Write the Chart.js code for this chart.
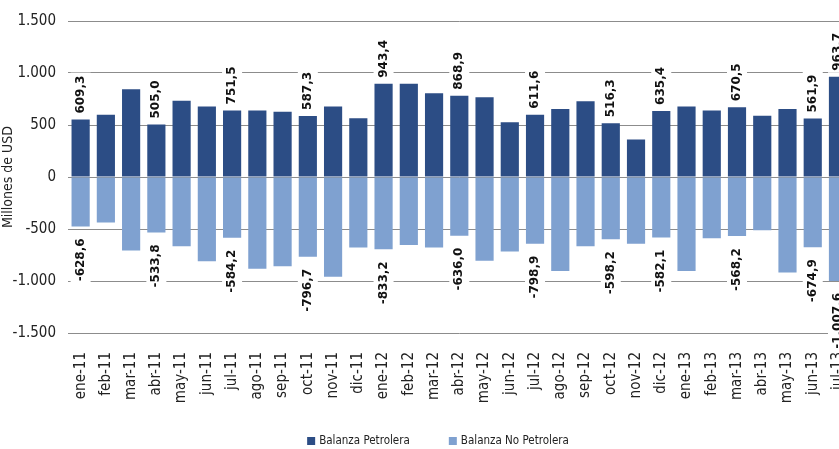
<!DOCTYPE html>
<html>
<head>
<meta charset="utf-8">
<script src="https://cdn.jsdelivr.net/npm/chart.js@4.4.1/dist/chart.umd.min.js"></script>
<style>
    html, body { margin: 0; padding: 0; background: #fff; overflow: hidden; }
    #contenedor { width: 839px; height: 449px; overflow: hidden; }
    #graficoBalanza { display: block; }
</style>
</head>
<body>
<div id="contenedor"><canvas id="graficoBalanza" width="859" height="449"></canvas></div>
<script>
// Meses del eje X
const meses = ['ene-11', 'feb-11', 'mar-11', 'abr-11', 'may-11', 'jun-11', 'jul-11', 'ago-11', 'sep-11', 'oct-11', 'nov-11', 'dic-11',
    'ene-12', 'feb-12', 'mar-12', 'abr-12', 'may-12', 'jun-12', 'jul-12', 'ago-12', 'sep-12', 'oct-12', 'nov-12', 'dic-12',
    'ene-13', 'feb-13', 'mar-13', 'abr-13', 'may-13', 'jun-13', 'jul-13'];

// Balanza petrolera (millones de USD)
const petrolera = [552, 599, 844, 505.0, 733, 679, 640, 640, 628, 587.3, 679, 564,
    896, 896, 806, 781, 768, 526, 599, 653, 729, 516.3, 360, 635.4,
    679, 640, 670.5, 590, 653, 561.9, 963.7];

// Balanza no petrolera (millones de USD)
const noPetrolera = [-475, -437, -707, -533.8, -666, -810, -584.2, -883, -857, -768, -959, -679,
    -695, -653, -679, -564, -806, -717, -641, -905, -666, -598.2, -641, -582.1,
    -905, -590, -568.2, -513, -918, -674.9, -1000];

// Etiquetas que aparecen sobre algunas barras
const etiquetasPetrolera = ['609,3', null, null, '505,0', null, null, '751,5', null, null, '587,3', null, null,
    '943,4', null, null, '868,9', null, null, '611,6', null, null, '516,3', null, '635,4',
    null, null, '670,5', null, null, '561,9', '963,7'];
const etiquetasNoPetrolera = ['-628,6', null, null, '-533,8', null, null, '-584,2', null, null, '-796,7', null, null,
    '-833,2', null, null, '-636,0', null, null, '-798,9', null, null, '-598,2', null, '-582,1',
    null, null, '-568,2', null, null, '-674,9', '-1.007,6'];

const fuenteAngosta = "'DejaVu Sans Condensed', sans-serif";

// Formato con punto de miles
function formatoMiles(valor) {
    const signo = valor < 0 ? '-' : '';
    return signo + String(Math.abs(valor)).replace(/\B(?=(\d{3})+(?!\d))/g, '.');
}

// Plugin para dibujar las etiquetas verticales con fondo blanco
const pluginEtiquetas = {
    id: 'etiquetas',
    afterDatasetsDraw(chart) {
        const ctx = chart.ctx;
        ctx.save();
        ctx.font = "bold 12px 'DejaVu Sans', sans-serif";
        ctx.textBaseline = 'middle';
        [[0, etiquetasPetrolera], [1, etiquetasNoPetrolera]].forEach(([indice, textos]) => {
            const meta = chart.getDatasetMeta(indice);
            meta.data.forEach((barra, i) => {
                const texto = textos[i];
                if (!texto) return;
                const ancho = ctx.measureText(texto).width;
                ctx.save();
                if (indice === 0) {
                    ctx.translate(barra.x, barra.y - 6);
                    ctx.rotate(-Math.PI / 2);
                    ctx.fillStyle = '#fff';
                    ctx.fillRect(-2, -10, ancho + 5, 20);
                    ctx.fillStyle = '#111';
                    ctx.textAlign = 'left';
                    ctx.fillText(texto, 0, 0);
                } else {
                    ctx.translate(barra.x, barra.y + 12);
                    ctx.rotate(-Math.PI / 2);
                    ctx.fillStyle = '#fff';
                    ctx.fillRect(-ancho - 3, -10, ancho + 5, 20);
                    ctx.fillStyle = '#111';
                    ctx.textAlign = 'right';
                    ctx.fillText(texto, 0, 0);
                }
                ctx.restore();
            });
        });
        ctx.restore();
    }
};

// Leyenda dibujada a mano debajo del eje X
const pluginLeyenda = {
    id: 'leyendaInferior',
    afterDraw(chart) {
        const ctx = chart.ctx;
        const cuadro = 8;
        const separacion = 39;
        ctx.save();
        ctx.font = "11.5px 'DejaVu Sans Condensed', sans-serif";
        ctx.textBaseline = 'middle';
        ctx.textAlign = 'left';
        const items = chart.data.datasets.map(d => ({
            texto: d.label,
            color: d.backgroundColor,
            ancho: cuadro + 4 + ctx.measureText(d.label).width
        }));
        const total = items.reduce((s, it) => s + it.ancho, 0) + separacion * (items.length - 1);
        let x = 438 - total / 2;
        const y = 441;
        items.forEach(it => {
            ctx.fillStyle = it.color;
            ctx.fillRect(x, y - cuadro / 2, cuadro, cuadro);
            ctx.fillStyle = '#222';
            ctx.fillText(it.texto, x + cuadro + 4, y);
            x += it.ancho + separacion;
        });
        ctx.restore();
    }
};

const ctxBalanza = document.getElementById('graficoBalanza').getContext('2d');
new Chart(ctxBalanza, {
    type: 'bar',
    data: {
        labels: meses,
        datasets: [
            {
                label: 'Balanza Petrolera',
                data: petrolera,
                backgroundColor: '#2c4d85',
                categoryPercentage: 1,
                barPercentage: 0.72
            },
            {
                label: 'Balanza No Petrolera',
                data: noPetrolera,
                backgroundColor: '#7fa1d0',
                categoryPercentage: 1,
                barPercentage: 0.72
            }
        ]
    },
    options: {
        responsive: false,
        devicePixelRatio: 1,
        animation: false,
        layout: {
            padding: { top: 10, right: 1, bottom: 26, left: 0 }
        },
        plugins: {
            tooltip: { enabled: false },
            legend: { display: false }
        },
        scales: {
            x: {
                stacked: true,
                // marcas invisibles: solo sirven para separar las etiquetas del eje
                grid: { color: 'transparent', drawOnChartArea: false, drawTicks: true, tickLength: 16 },
                border: { display: false },
                ticks: {
                    autoSkip: false,
                    minRotation: 90,
                    maxRotation: 90,
                    padding: 3,
                    color: '#222',
                    font: { family: fuenteAngosta, size: 15 }
                },
                afterFit(escala) { escala.height = 90; }
            },
            y: {
                stacked: true,
                min: -1500,
                max: 1500,
                grid: { color: '#8c8c8c', drawTicks: false },
                border: { display: false },
                ticks: {
                    stepSize: 500,
                    padding: 12,
                    color: '#222',
                    font: { family: fuenteAngosta, size: 15 },
                    callback: valor => formatoMiles(valor)
                },
                title: {
                    display: true,
                    text: 'Millones de USD',
                    color: '#222',
                    padding: { top: 0, bottom: 4 },
                    font: { family: fuenteAngosta, size: 14 }
                },
                afterFit(escala) { escala.width = 68; }
            }
        }
    },
    plugins: [pluginEtiquetas, pluginLeyenda]
});
</script>
</body>
</html>
